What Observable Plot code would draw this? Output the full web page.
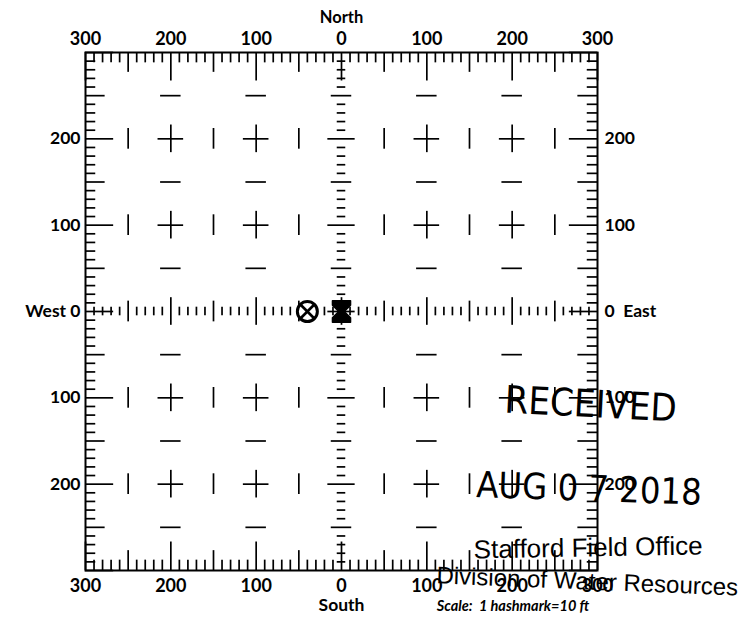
<!DOCTYPE html>
<html>
<head>
<meta charset="utf-8">
<script src="https://cdn.jsdelivr.net/npm/d3@7"></script>
<script src="https://cdn.jsdelivr.net/npm/@observablehq/plot@0.6"></script>
<style>
  html, body { margin: 0; padding: 0; background: #fff; }
  #chart svg { display: block; }
</style>
</head>
<body>
<div id="chart"></div>
<script>
// ---- data ----
const hashes = d3.range(-300, 301, 10);              // one hashmark = 10 ft
const gridPositions = [-300, -200, -100, 0, 100, 200, 300];
const topBottomLabels = ["300", "200", "100", "0", "100", "200", "300"];
const sidePositions = [200, 100, 0, -100, -200];
const leftLabels = ["200", "100", "West 0", "100", "200"];
const rightLabels = ["200", "100", "0  East", "100", "200"];
const crossX = [-200, -100, 100, 200];
const crossY = [-200, -100, 100, 200];
const vDashX = [-250, -150, -50, 50, 150, 250];
const vDashY = [-200, -100, 100, 200];
const hDashX = [-200, -100, 100, 200];
const hDashY = [-250, -150, -50, 50, 150, 250];
const wellX = [-40];     // well location, ft (west negative)
const wellY = [0];
const refX = [0];        // reference point
const refY = [0];
const stampLines = ["RECEIVED", "AUG 0 7 2018", "Stafford Field Office", "Division of Water Resources"];
const scaleNote = "Scale:  1 hashmark=10 ft";

// ---- helpers ----
const len = d => (d % 100 === 0 ? 33 : d % 50 === 0 ? 23 : 12);
const midLen = d => (d % 100 === 0 ? 16 : d % 50 === 0 ? 12 : 5);
const cells = (xs, ys) => xs.flatMap(x => ys.map(y => ({x, y})));

const hourglass = {
  draw(context, size) {
    const h = Math.sqrt(size) * 0.6, w = h * 0.85;
    context.moveTo(-w, -h);
    context.lineTo(w, -h);
    context.lineTo(w, -h * 0.6);
    context.lineTo(w * 0.3, 0);
    context.lineTo(w, h * 0.6);
    context.lineTo(w, h);
    context.lineTo(-w, h);
    context.lineTo(-w, h * 0.6);
    context.lineTo(-w * 0.3, 0);
    context.lineTo(-w, -h * 0.6);
    context.closePath();
  }
};

const sw = 1.7;
const labelFont = "Lato, 'Open Sans', sans-serif";

const chart = Plot.plot({
  width: 743,
  height: 624,
  marginLeft: 85,
  marginRight: 146,
  marginTop: 52,
  marginBottom: 54,
  x: {domain: [-300, 300], axis: null},
  y: {domain: [-300, 300], axis: null},
  style: {fontFamily: labelFont, background: "#fff", color: "#000"},
  marks: [
    // edge hashmarks
    Plot.ruleX(hashes, {x: d => d, y1: 300, y2: d => 300 - len(d), stroke: "#000", strokeWidth: sw}),
    Plot.ruleX(hashes, {x: d => d, y1: -300, y2: d => -300 + len(d), stroke: "#000", strokeWidth: sw}),
    Plot.ruleY(hashes, {y: d => d, x1: -300, x2: d => -300 + len(d), stroke: "#000", strokeWidth: sw}),
    Plot.ruleY(hashes, {y: d => d, x1: 300, x2: d => 300 - len(d), stroke: "#000", strokeWidth: sw}),
    // center N-S and E-W hash lines
    Plot.ruleY(hashes.filter(d => Math.abs(d) < 300), {y: d => d, x1: d => -midLen(d), x2: d => midLen(d), stroke: "#000", strokeWidth: sw}),
    Plot.ruleX(hashes.filter(d => Math.abs(d) < 300), {x: d => d, y1: d => -midLen(d), y2: d => midLen(d), stroke: "#000", strokeWidth: sw}),
    // interior crosses
    Plot.ruleY(cells(crossX, crossY), {y: "y", x1: d => d.x - 15, x2: d => d.x + 15, stroke: "#000", strokeWidth: sw}),
    Plot.ruleX(cells(crossX, crossY), {x: "x", y1: d => d.y - 16, y2: d => d.y + 16, stroke: "#000", strokeWidth: sw}),
    // interior dashes
    Plot.ruleX(cells(vDashX, vDashY), {x: "x", y1: d => d.y - 12, y2: d => d.y + 12, stroke: "#000", strokeWidth: sw}),
    Plot.ruleY(cells(hDashX, hDashY), {y: "y", x1: d => d.x - 12, x2: d => d.x + 12, stroke: "#000", strokeWidth: sw}),
    // frame
    Plot.frame({stroke: "#000", strokeWidth: 2}),
    // well symbol
    Plot.dot(wellX.map((x, i) => ({x, y: wellY[i]})), {x: "x", y: "y", r: 10, stroke: "#000", strokeWidth: 3, fill: "#fff"}),
    Plot.dot(wellX.map((x, i) => ({x, y: wellY[i]})), {x: "x", y: "y", r: 6.4, symbol: "times", stroke: "#000", strokeWidth: 2.6}),
    Plot.dot(refX.map((x, i) => ({x, y: refY[i]})), {x: "x", y: "y", r: 10, symbol: hourglass, fill: "#000", stroke: "#000", strokeWidth: 1.5, strokeLinejoin: "round"}),
    // axis labels
    Plot.text(gridPositions, {x: d => d, y: 300, text: (d, i) => topBottomLabels[i], dy: -13, fontSize: 18, fontWeight: "bold", fill: "#000"}),
    Plot.text(gridPositions, {x: d => d, y: -300, text: (d, i) => topBottomLabels[i], dy: 16, fontSize: 18, fontWeight: "bold", fill: "#000"}),
    Plot.text(["North"], {x: 0, y: 300, text: d => d, dy: -35, fontSize: 16.5, fontWeight: "bold", fill: "#000"}),
    Plot.text(["South"], {x: 0, y: -300, text: d => d, dy: 35, fontSize: 17.5, fontWeight: "bold", fill: "#000"}),
    Plot.text(sidePositions, {x: -300, y: d => d, text: (d, i) => leftLabels[i], dx: -5, textAnchor: "end", fontSize: 17.5, fontWeight: "bold", fill: "#000"}),
    Plot.text(sidePositions, {x: 300, y: d => d, text: (d, i) => rightLabels[i], dx: 7, textAnchor: "start", fontSize: 17.5, fontWeight: "bold", fill: "#000"}),
    // scale note
    Plot.text([scaleNote], {x: 201, y: -300, text: d => d, dy: 36, fontSize: 14.5, fontWeight: "bold", fontStyle: "italic", fill: "#000"}),
    // received stamp
    Plot.text([stampLines[0]], {x: 292, y: -108, text: d => d, rotate: 3, fontSize: 38, fontFamily: "'Liberation Sans Narrow', 'DejaVu Sans Condensed', sans-serif", fill: "#000"}),
    Plot.text([stampLines[1]], {x: 290, y: -206, text: d => d, rotate: 2, fontSize: 36, fontFamily: "'Liberation Sans Narrow', 'DejaVu Sans Condensed', sans-serif", fill: "#000"}),
    Plot.text([stampLines[2]], {x: 289, y: -274, text: d => d, rotate: -1, fontSize: 26, fontFamily: "'Liberation Sans', Arial, sans-serif", fill: "#000"}),
    Plot.text([stampLines[3]], {x: 288, y: -313, text: d => d, rotate: 2.3, fontSize: 24, fontFamily: "'Liberation Sans', Arial, sans-serif", fill: "#000"})
  ]
});
document.getElementById("chart").appendChild(chart);
</script>
</body>
</html>
